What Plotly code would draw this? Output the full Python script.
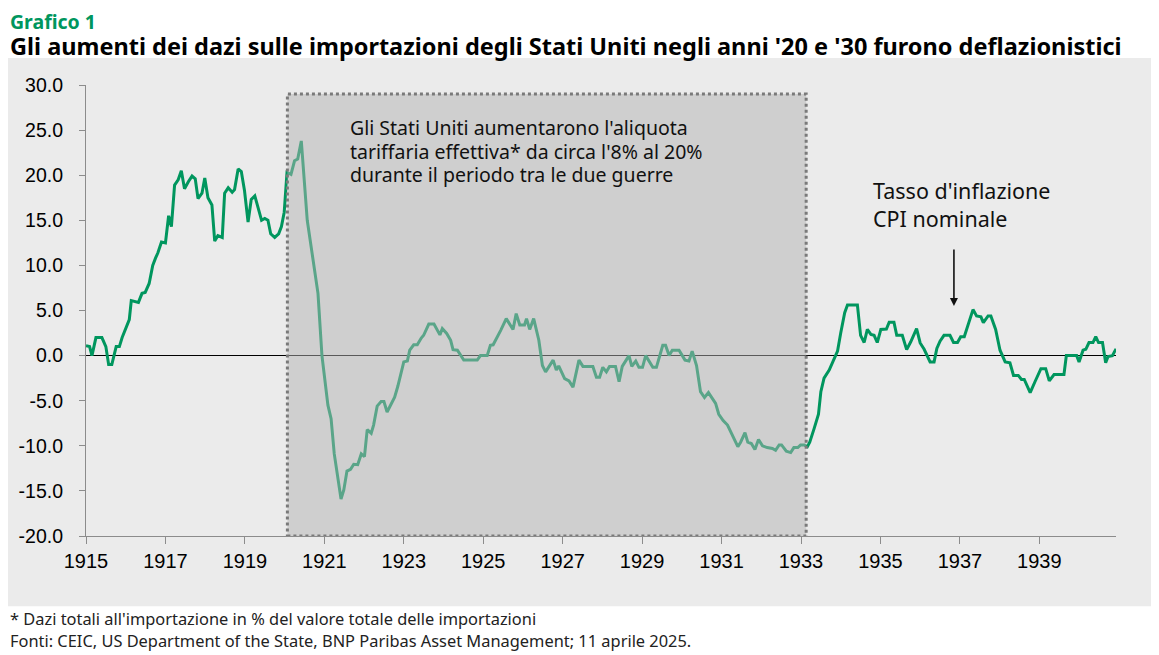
import plotly.graph_objects as go

# US CPI inflation, y/y % (monthly readings, decimal years)
years = [
    1915.00, 1915.09, 1915.15, 1915.25, 1915.40, 1915.50, 1915.57, 1915.65, 1915.76, 1915.84,
    1915.91, 1915.99, 1916.09, 1916.14, 1916.24, 1916.32, 1916.41, 1916.49, 1916.59, 1916.68,
    1916.75, 1916.81, 1916.90, 1917.00, 1917.08, 1917.15, 1917.23, 1917.32, 1917.40, 1917.48,
    1917.58, 1917.67, 1917.75, 1917.82, 1917.92, 1917.99, 1918.07, 1918.17, 1918.24, 1918.32,
    1918.43, 1918.49, 1918.58, 1918.68, 1918.74, 1918.83, 1918.91, 1918.99, 1919.08, 1919.16,
    1919.25, 1919.33, 1919.42, 1919.50, 1919.58, 1919.65, 1919.75, 1919.85, 1919.92, 1919.99,
    1920.06, 1920.16, 1920.25, 1920.33, 1920.42, 1920.57, 1920.69, 1920.84, 1920.94, 1921.09,
    1921.17, 1921.25, 1921.42, 1921.49, 1921.57, 1921.66, 1921.74, 1921.84, 1921.93, 1922.01,
    1922.08, 1922.18, 1922.24, 1922.33, 1922.43, 1922.50, 1922.58, 1922.67, 1922.77, 1922.85,
    1923.00, 1923.09, 1923.15, 1923.25, 1923.34, 1923.44, 1923.50, 1923.63, 1923.76, 1923.91,
    1923.97, 1924.08, 1924.18, 1924.24, 1924.35, 1924.51, 1924.85, 1924.93, 1925.10, 1925.18,
    1925.25, 1925.44, 1925.58, 1925.75, 1925.83, 1925.92, 1926.04, 1926.09, 1926.17, 1926.27,
    1926.40, 1926.49, 1926.57, 1926.76, 1926.84, 1926.90, 1927.05, 1927.16, 1927.26, 1927.41,
    1927.51, 1927.76, 1927.85, 1927.93, 1928.01, 1928.10, 1928.18, 1928.33, 1928.42, 1928.50,
    1928.67, 1928.74, 1928.84, 1928.92, 1929.01, 1929.09, 1929.17, 1929.27, 1929.36, 1929.52,
    1929.59, 1929.68, 1929.76, 1929.93, 1930.08, 1930.18, 1930.26, 1930.37, 1930.47, 1930.57,
    1930.67, 1930.78, 1930.85, 1930.93, 1931.04, 1931.15, 1931.23, 1931.41, 1931.48, 1931.59,
    1931.66, 1931.75, 1931.84, 1931.93, 1932.03, 1932.15, 1932.28, 1932.36, 1932.45, 1932.51,
    1932.63, 1932.74, 1932.82, 1932.92, 1932.99, 1933.08, 1933.16, 1933.22, 1933.33, 1933.44,
    1933.50, 1933.58, 1933.71, 1933.83, 1933.92, 1934.00, 1934.10, 1934.17, 1934.42, 1934.50,
    1934.59, 1934.67, 1934.76, 1934.84, 1934.92, 1935.01, 1935.15, 1935.22, 1935.34, 1935.41,
    1935.55, 1935.66, 1935.76, 1935.91, 1936.00, 1936.10, 1936.25, 1936.35, 1936.42, 1936.50,
    1936.60, 1936.75, 1936.84, 1936.94, 1937.02, 1937.11, 1937.22, 1937.33, 1937.42, 1937.53,
    1937.59, 1937.71, 1937.78, 1937.90, 1938.01, 1938.14, 1938.26, 1938.35, 1938.47, 1938.55,
    1938.62, 1938.77, 1938.89, 1939.04, 1939.16, 1939.25, 1939.37, 1939.62, 1939.68, 1939.94,
    1940.00, 1940.10, 1940.17, 1940.25, 1940.35, 1940.42, 1940.49, 1940.59, 1940.67, 1940.73,
    1940.84, 1940.93,
]
cpi_yoy = [
    1.1, 1.0, 0.0, 2.0, 2.0, 1.0, -1.0, -1.0, 1.0, 1.0,
    2.0, 2.8, 4.0, 6.1, 6.0, 5.9, 6.9, 7.0, 8.0, 10.0,
    10.8, 11.4, 12.6, 12.5, 15.5, 14.3, 18.9, 19.5, 20.5, 18.5,
    19.3, 19.9, 19.6, 17.4, 18.0, 19.7, 17.5, 16.7, 12.7, 13.3,
    13.1, 18.0, 18.6, 18.1, 18.4, 20.7, 20.4, 18.3, 14.8, 17.3,
    17.7, 16.3, 15.0, 15.2, 15.0, 13.5, 13.1, 13.5, 14.3, 15.9,
    20.3, 20.1, 21.6, 21.8, 23.8, 15.0, 11.3, 6.9, 0.0, -5.5,
    -7.0, -10.9, -15.9, -14.9, -12.8, -12.6, -12.05, -12.1, -10.9, -11.2,
    -8.2, -8.6, -7.7, -5.6, -5.1, -5.1, -6.25, -5.4, -4.6, -3.4,
    -0.7, -0.6, 0.6, 1.2, 1.2, 1.95, 2.25, 3.5, 3.5, 2.3,
    3.0, 2.45, 1.7, 0.66, 0.6, -0.5, -0.5, 0.0, 0.0, 1.15,
    1.2, 2.8, 4.1, 2.9, 4.65, 3.4, 3.4, 4.1, 2.9, 4.1,
    1.7, -1.1, -1.8, -0.5, -1.6, -1.15, -2.55, -2.8, -3.5, -0.5,
    -1.2, -1.2, -2.4, -2.4, -1.3, -1.8, -1.2, -1.2, -2.9, -1.2,
    0.0, -1.2, -0.6, -1.3, -1.3, 0.0, -0.6, -1.3, -1.3, 1.15,
    1.15, 0.0, 0.6, 0.6, -0.5, -0.6, 0.5, -1.1, -4.0, -4.65,
    -4.1, -4.8, -5.3, -6.5, -7.2, -7.7, -8.5, -10.1, -9.6, -8.55,
    -9.6, -9.75, -10.4, -9.3, -10.0, -10.2, -10.3, -10.5, -9.9, -9.9,
    -10.6, -10.75, -10.2, -10.2, -9.9, -9.9, -10.1, -9.6, -8.1, -6.5,
    -4.0, -2.5, -1.6, -0.4, 0.5, 2.5, 4.75, 5.6, 5.6, 2.25,
    1.45, 2.9, 2.35, 2.25, 1.45, 2.9, 2.95, 3.7, 3.7, 2.25,
    2.25, 0.66, 1.5, 3.0, 1.4, 0.7, -0.7, -0.7, 0.8, 1.6,
    2.25, 2.25, 1.45, 1.45, 2.1, 2.1, 3.65, 5.1, 4.4, 4.3,
    3.65, 4.4, 4.4, 2.9, 0.6, -0.7, -0.8, -2.2, -2.2, -2.65,
    -2.65, -4.1, -2.9, -1.45, -1.45, -2.8, -2.1, -2.1, 0.0, 0.0,
    -0.7, 0.6, 0.7, 1.45, 1.45, 2.1, 1.45, 1.45, -0.8, -0.1,
    0.0, 0.75,
]

x_ticks = [1915, 1917, 1919, 1921, 1923, 1925, 1927, 1929, 1931, 1933, 1935, 1937, 1939]
y_ticks = [-20, -15, -10, -5, 0, 5, 10, 15, 20, 25, 30]
y_labels = ["-20.0", "-15.0", "-10.0", "-5.0", "0.0", "5.0", "10.0", "15.0", "20.0", "25.0", "30.0"]

interwar = (1920.07, 1933.13)  # shaded period

box_lines = ["Gli Stati Uniti aumentarono l'aliquota",
             "tariffaria effettiva* da circa l'8% al 20%",
             "durante il periodo tra le due guerre"]
cpi_lines = ["Tasso d'inflazione", "CPI nominale"]

GREEN = "#00965e"
PANEL = "#ebebeb"
FONT = "Noto Sans"

# page body has an 8px margin, so the figure is 8px smaller than the window
fig = go.Figure()
fig.add_trace(go.Scatter(x=years, y=cpi_yoy, mode="lines",
                         line=dict(color=GREEN, width=3), hoverinfo="skip"))

# grey panel behind the chart
fig.add_shape(type="rect", xref="paper", yref="paper", x0=-0.08, x1=1.05,
              y0=-0.156, y1=1.06, fillcolor=PANEL, line_width=0, layer="below")
# interwar box, drawn over the line so it mutes it
fig.add_shape(type="rect", xref="x", yref="y", x0=interwar[0], x1=interwar[1], y0=-20, y1=29,
              fillcolor="rgba(180,180,180,0.5)", line=dict(color="#7a7a7a", width=3, dash="dot"),
              layer="above")

for i, line in enumerate(box_lines):
    fig.add_annotation(xref="x", yref="y", x=1921.6, y=25.25 - i * 2.6, xanchor="left",
                       yanchor="middle", showarrow=False, text=line,
                       font=dict(family=FONT, size=19.5, color="#111"))
for i, line in enumerate(cpi_lines):
    fig.add_annotation(xref="x", yref="y", x=1934.77, y=18.25 - i * 3.0, xanchor="left",
                       yanchor="middle", showarrow=False, text=line,
                       font=dict(family=FONT, size=21.5, color="#111"))
fig.add_annotation(xref="x", yref="y", x=1936.85, y=5.5, ax=0, ay=-58, text="",
                   showarrow=True, arrowhead=2, arrowsize=1, arrowwidth=1.6, arrowcolor="#111")

# titles and notes
fig.add_annotation(xref="paper", yref="paper", x=-0.0757, y=1.1419, xanchor="left", yanchor="middle",
                   showarrow=False, text="<b>Grafico 1</b>",
                   font=dict(family=FONT, size=19.5, color=GREEN))
fig.add_annotation(xref="paper", yref="paper", x=-0.0757, y=1.0865, xanchor="left", yanchor="middle",
                   showarrow=False,
                   text="<b>Gli aumenti dei dazi sulle importazioni degli Stati Uniti negli anni '20 e '30 "
                        "furono deflazionistici</b>",
                   font=dict(family=FONT, size=23.5, color="#000"))
fig.add_annotation(xref="paper", yref="paper", x=-0.0757, y=-0.184, xanchor="left", yanchor="middle",
                   showarrow=False,
                   text="* Dazi totali all'importazione in % del valore totale delle importazioni",
                   font=dict(family=FONT, size=16.4, color="#222"))
fig.add_annotation(xref="paper", yref="paper", x=-0.0757, y=-0.2328, xanchor="left", yanchor="middle",
                   showarrow=False,
                   text="Fonti: CEIC, US Department of the State, BNP Paribas Asset Management; 11 aprile 2025.",
                   font=dict(family=FONT, size=16.4, color="#222"))

fig.update_xaxes(range=[1915, 1940.93], tickvals=x_ticks, ticktext=[str(y) for y in x_ticks],
                 showgrid=False, zeroline=False, showline=True, linecolor="#8c8c8c", linewidth=1.2,
                 ticks="outside", ticklen=7, tickcolor="#8c8c8c",
                 tickfont=dict(family="Liberation Sans", size=20, color="#000"))
fig.update_yaxes(range=[-20, 30], tickvals=y_ticks, ticktext=y_labels,
                 showgrid=False, zeroline=True, zerolinecolor="#000", zerolinewidth=1,
                 showline=True, linecolor="#8c8c8c", linewidth=1.2,
                 ticks="outside", ticklen=6, tickcolor="#8c8c8c", ticklabelstandoff=12,
                 tickfont=dict(family="Liberation Sans", size=19.5, color="#000"))

fig.update_layout(width=1151, height=647, showlegend=False,
                  margin=dict(l=78, r=43, t=77, b=119),
                  paper_bgcolor="white", plot_bgcolor=PANEL)

fig.write_html("out.html")
